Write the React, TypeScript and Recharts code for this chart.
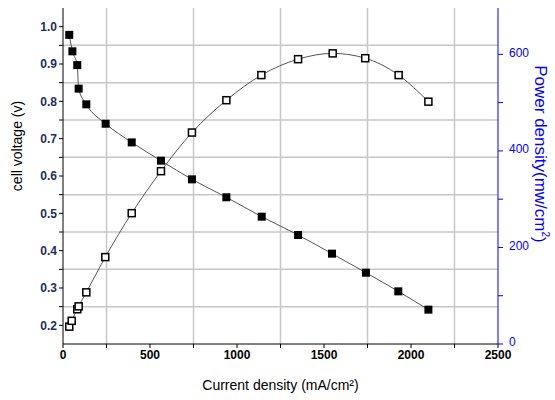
import {
  LineChart,
  Line,
  XAxis,
  YAxis,
  ReferenceLine,
  Label,
} from "recharts";

const voltCurrent = [36, 54, 82, 90, 134, 245, 395, 563, 741, 939, 1142, 1351, 1546, 1741, 1927, 2100];
const voltValues = [0.978, 0.934, 0.897, 0.834, 0.792, 0.74, 0.69, 0.641, 0.591, 0.543, 0.491, 0.442, 0.392, 0.341, 0.291, 0.242];

const powerCurrent = [36, 50, 82, 90, 134, 243, 395, 563, 741, 939, 1140, 1351, 1550, 1737, 1929, 2100];
const powerValues = [36, 48, 72, 78, 107, 180, 271, 358, 438, 505, 557, 590, 602, 592, 557, 502];

const xTicks = [0, 250, 500, 750, 1000, 1250, 1500, 1750, 2000, 2250, 2500];
const leftTicks = [0.2, 0.25, 0.3, 0.35, 0.4, 0.45, 0.5, 0.55, 0.6, 0.65, 0.7, 0.75, 0.8, 0.85, 0.9, 0.95, 1.0];
const rightTicks = [0, 100, 200, 300, 400, 500, 600];

const xGrid = [250, 750, 1250, 1750, 2250];
const yGrid = [0.25, 0.35, 0.45, 0.55, 0.65, 0.75, 0.85, 0.95];

const voltData = voltCurrent.map((c, i) => ({ current: c, voltage: voltValues[i] }));
const powerData = powerCurrent.map((c, i) => ({ current: c, power: powerValues[i] }));

const FilledSquare = (props: any) => {
  const { cx, cy } = props;
  if (cx == null || cy == null) return null;
  return <rect x={cx - 4} y={cy - 4} width={8} height={8} fill="#000" />;
};

const OpenSquare = (props: any) => {
  const { cx, cy } = props;
  if (cx == null || cy == null) return null;
  return <rect x={cx - 3.5} y={cy - 3.5} width={7} height={7} fill="#fff" stroke="#000" strokeWidth={1.5} />;
};

const font = "'Liberation Sans', Arial, sans-serif";

const LeftTitle = () => (
  <text
    x={17}
    y={146}
    transform="rotate(-90 17 146)"
    textAnchor="middle"
    dominantBaseline="central"
    fill="#000"
    fontSize={14}
    fontFamily={font}
  >
    cell voltage (v)
  </text>
);

const RightTitle = () => (
  <text
    x={540}
    y={154}
    transform="rotate(90 540 154)"
    textAnchor="middle"
    dominantBaseline="central"
    fill="#0000ff"
    fontSize={17}
    fontFamily={font}
  >
    Power density(mw/cm
    <tspan dy={-6} fontSize={10}>2</tspan>
    <tspan dy={6}>)</tspan>
  </text>
);

export default function App() {
  return (
    <div style={{ position: "absolute", left: 0, top: 0, background: "#fff" }}>
      <LineChart width={555} height={400} margin={{ top: 8, right: 12, bottom: 22, left: 18 }}>
        <XAxis
          dataKey="current"
          type="number"
          domain={[0, 2500]}
          ticks={xTicks}
          interval={0}
          allowDataOverflow
          tickFormatter={(v: number) => (v % 500 === 0 ? String(v) : "")}
          stroke="#000"
          tick={{ fill: "#000", fontSize: 12, fontFamily: font, fontWeight: "bold" }}
          tickSize={4}
          height={34}
        >
          <Label
            value="Current density (mA/cm²)"
            position="insideBottom"
            offset={-12}
            style={{ fill: "#000", fontSize: 14, fontFamily: font }}
          />
        </XAxis>
        <YAxis
          yAxisId="left"
          type="number"
          domain={[0.15, 1.05]}
          ticks={leftTicks}
          interval={0}
          allowDataOverflow
          tickFormatter={(v: number) => (Math.round(v * 100) % 10 === 0 ? v.toFixed(1) : "")}
          stroke="#000"
          tick={{ fill: "#1c2e5a", fontSize: 12, fontFamily: font, fontWeight: "bold" }}
          tickSize={4}
          width={45}
        >
          <Label content={<LeftTitle />} />
        </YAxis>
        <YAxis
          yAxisId="right"
          orientation="right"
          type="number"
          domain={[0, 696]}
          ticks={rightTicks}
          interval={0}
          allowDataOverflow
          tickFormatter={(v: number) => (v % 200 === 0 ? String(v) : "")}
          stroke="#0000ff"
          tick={{ fill: "#0000ff", fontSize: 12, fontFamily: font, dy: -2 }}
          tickSize={5}
          tickMargin={6}
          width={45}
        >
          <Label content={<RightTitle />} />
        </YAxis>
        {xGrid.map((v) => (
          <ReferenceLine key={"x" + v} x={v} yAxisId="left" stroke="#c8c8c8" strokeWidth={1.5} />
        ))}
        {yGrid.map((v) => (
          <ReferenceLine key={"y" + v} y={v} yAxisId="left" stroke="#c8c8c8" strokeWidth={1.5} />
        ))}
        <Line
          yAxisId="right"
          data={powerData}
          dataKey="power"
          type="monotone"
          stroke="#555"
          strokeWidth={1}
          dot={<OpenSquare />}
          isAnimationActive={false}
        />
        <Line
          yAxisId="left"
          data={voltData}
          dataKey="voltage"
          type="monotone"
          stroke="#555"
          strokeWidth={1}
          dot={<FilledSquare />}
          isAnimationActive={false}
        />
      </LineChart>
    </div>
  );
}
